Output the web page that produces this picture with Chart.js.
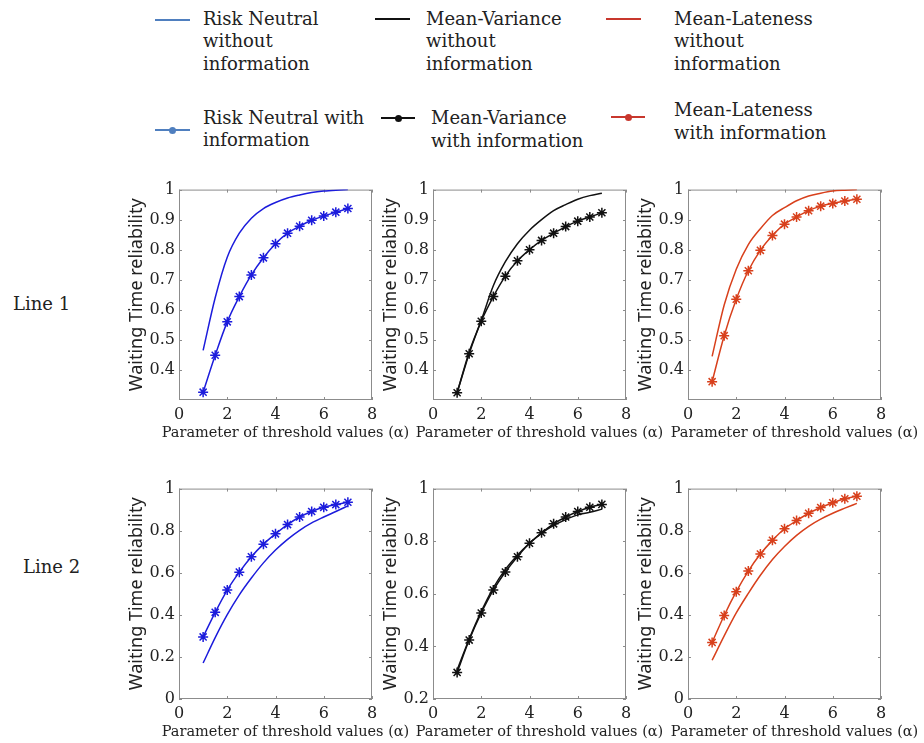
<!DOCTYPE html>
<html>
<head>
<meta charset="utf-8">
<script src="https://cdn.jsdelivr.net/npm/chart.js@4"></script>
<style>
  body { margin: 0; background: #fff; width: 924px; height: 743px; position: relative; overflow: hidden;
         font-family: "DejaVu Serif", serif; color: #222; }
  .leg { position: absolute; font-size: 18px; line-height: 22.5px; white-space: nowrap; }
  .sample { position: absolute; height: 2px; }
  .dot { position: absolute; width: 7px; height: 7px; border-radius: 50%; }
  .xt { position: absolute; width: 300px; text-align: center; font-size: 14.5px; line-height: 17px; white-space: nowrap; }
  .rowlab { position: absolute; font-size: 18px; line-height: 22.5px; }
  .box { position: absolute; }
</style>
</head>
<body>

<!-- legend -->
<div class="sample" style="left:155px;top:19px;width:35px;background:#4f7fbf"></div>
<div class="leg" style="left:203px;top:7.5px">Risk Neutral<br>without<br>information</div>
<div class="sample" style="left:375px;top:18px;width:35px;background:#111"></div>
<div class="leg" style="left:426px;top:7.5px">Mean-Variance<br>without<br>information</div>
<div class="sample" style="left:606px;top:18px;width:35px;background:#c8372d"></div>
<div class="leg" style="left:674px;top:7.5px">Mean-Lateness<br>without<br>information</div>

<div class="sample" style="left:155px;top:129px;width:35px;background:#4f7fbf"></div>
<div class="dot" style="left:169px;top:126.5px;background:#4f7fbf"></div>
<div class="leg" style="left:203px;top:106.5px">Risk Neutral with<br>information</div>
<div class="sample" style="left:381px;top:117px;width:34px;background:#111"></div>
<div class="dot" style="left:394.5px;top:114.5px;background:#111"></div>
<div class="leg" style="left:431px;top:107px">Mean-Variance<br>with information</div>
<div class="sample" style="left:611px;top:116px;width:34px;background:#c8372d"></div>
<div class="dot" style="left:624.5px;top:113.5px;background:#c8372d"></div>
<div class="leg" style="left:674px;top:99px">Mean-Lateness<br>with information</div>

<div class="rowlab" style="left:13px;top:292.5px">Line 1</div>
<div class="rowlab" style="left:23px;top:555.5px">Line 2</div>

<div class="box" style="left:117px;top:176px"><canvas id="c11" width="267" height="254"></canvas></div>
<div class="box" style="left:371px;top:176px"><canvas id="c12" width="267" height="254"></canvas></div>
<div class="box" style="left:626px;top:176px"><canvas id="c13" width="267" height="254"></canvas></div>
<div class="box" style="left:117px;top:475px"><canvas id="c21" width="267" height="254"></canvas></div>
<div class="box" style="left:371px;top:475px"><canvas id="c22" width="267" height="254"></canvas></div>
<div class="box" style="left:626px;top:475px"><canvas id="c23" width="267" height="254"></canvas></div>

<div class="xt" style="left:135.5px;top:423.5px">Parameter of threshold values (α)</div>
<div class="xt" style="left:389.5px;top:423.5px">Parameter of threshold values (α)</div>
<div class="xt" style="left:644.5px;top:423.5px">Parameter of threshold values (α)</div>
<div class="xt" style="left:135.5px;top:722.5px">Parameter of threshold values (α)</div>
<div class="xt" style="left:389.5px;top:722.5px">Parameter of threshold values (α)</div>
<div class="xt" style="left:644.5px;top:722.5px">Parameter of threshold values (α)</div>

<script>
// threshold parameter alpha (x values)
const alphaValues = [1, 1.5, 2, 2.5, 3, 3.5, 4, 4.5, 5, 5.5, 6, 6.5, 7];
const xTicks = [0, 2, 4, 6, 8];
const yTicksLine1 = [0.4, 0.5, 0.6, 0.7, 0.8, 0.9, 1];
const yTicksFull = [0, 0.2, 0.4, 0.6, 0.8, 1];
const yTicksFrom02 = [0.2, 0.4, 0.6, 0.8, 1];

// Line 1
const l1RiskNeutralNoInfo   = [0.465, 0.64, 0.775, 0.855, 0.905, 0.937, 0.957, 0.972, 0.982, 0.99, 0.995, 0.998, 1.0];
const l1RiskNeutralInfo     = [0.326, 0.449, 0.56, 0.644, 0.716, 0.773, 0.82, 0.855, 0.878, 0.898, 0.912, 0.925, 0.937];
const l1MeanVarianceNoInfo  = [0.324, 0.46, 0.565, 0.68, 0.76, 0.82, 0.865, 0.9, 0.93, 0.95, 0.968, 0.98, 0.988];
const l1MeanVarianceInfo    = [0.324, 0.454, 0.562, 0.644, 0.712, 0.763, 0.80, 0.831, 0.855, 0.877, 0.895, 0.909, 0.923];
const l1MeanLatenessNoInfo  = [0.445, 0.616, 0.735, 0.817, 0.87, 0.914, 0.94, 0.963, 0.979, 0.988, 0.995, 0.998, 1.0];
const l1MeanLatenessInfo    = [0.361, 0.514, 0.635, 0.73, 0.798, 0.847, 0.885, 0.909, 0.93, 0.945, 0.954, 0.962, 0.968];

// Line 2
const l2RiskNeutralNoInfo   = [0.171, 0.292, 0.401, 0.495, 0.575, 0.647, 0.708, 0.759, 0.802, 0.837, 0.865, 0.891, 0.918];
const l2RiskNeutralInfo     = [0.295, 0.412, 0.518, 0.603, 0.676, 0.736, 0.785, 0.829, 0.865, 0.891, 0.911, 0.924, 0.935];
const l2MeanVarianceNoInfo  = [0.31, 0.428, 0.533, 0.623, 0.693, 0.747, 0.792, 0.83, 0.86, 0.882, 0.9, 0.91, 0.922];
const l2MeanVarianceInfo    = [0.301, 0.424, 0.527, 0.614, 0.683, 0.741, 0.792, 0.832, 0.866, 0.892, 0.913, 0.929, 0.94];
const l2MeanLatenessNoInfo  = [0.184, 0.3, 0.409, 0.502, 0.588, 0.663, 0.725, 0.778, 0.821, 0.855, 0.883, 0.907, 0.93];
const l2MeanLatenessInfo    = [0.269, 0.397, 0.51, 0.608, 0.689, 0.754, 0.809, 0.848, 0.883, 0.91, 0.933, 0.952, 0.964];

const BLUE = '#1c1cdc';
const BLACK = '#111111';
const RED = '#d8401c';

const toPoints = ys => alphaValues.map((a, i) => ({ x: a, y: ys[i] }));

// matlab style axes box with inward ticks
const boxPlugin = {
  id: 'axesBox',
  beforeDatasetsDraw(chart) {
    const { ctx, chartArea: a, scales: { x, y } } = chart;
    ctx.save();
    ctx.strokeStyle = '#8c8c8c';
    ctx.lineWidth = 1;
    ctx.strokeRect(a.left + 0.5, a.top + 0.5, a.width - 1, a.height - 1);
    ctx.beginPath();
    x.ticks.forEach(t => {
      const px = Math.round(x.getPixelForValue(t.value)) + 0.5;
      ctx.moveTo(px, a.bottom); ctx.lineTo(px, a.bottom - 3);
      ctx.moveTo(px, a.top); ctx.lineTo(px, a.top + 3);
    });
    y.ticks.forEach(t => {
      const py = Math.round(y.getPixelForValue(t.value)) + 0.5;
      ctx.moveTo(a.left, py); ctx.lineTo(a.left + 3, py);
      ctx.moveTo(a.right, py); ctx.lineTo(a.right - 3, py);
    });
    ctx.stroke();
    ctx.restore();
  }
};

function makeChart(id, color, noInfo, withInfo, yMin, yMax, yTicks) {
  const ctx = document.getElementById(id).getContext('2d');
  return new Chart(ctx, {
    type: 'line',
    data: {
      datasets: [
        {
          label: 'without information',
          data: toPoints(noInfo),
          borderColor: color,
          borderWidth: 1.5,
          pointRadius: 0,
          cubicInterpolationMode: 'monotone',
          fill: false
        },
        {
          label: 'with information',
          data: toPoints(withInfo),
          borderColor: color,
          borderWidth: 1.5,
          pointStyle: 'star',
          pointRadius: 5,
          pointBorderColor: color,
          pointBorderWidth: 1.5,
          cubicInterpolationMode: 'monotone',
          fill: false
        }
      ]
    },
    options: {
      responsive: false,
      animation: false,
      layout: { padding: { top: 10, right: 12, left: 0, bottom: 0 } },
      scales: {
        x: {
          type: 'linear',
          min: 0,
          max: 8,
          afterBuildTicks: s => { s.ticks = xTicks.map(v => ({ value: v })); },
          afterFit: s => { s.height = 30; },
          grid: { display: false, drawTicks: false },
          border: { display: false },
          ticks: { padding: 5, color: '#222', font: { family: 'DejaVu Serif', size: 16 }, callback: v => String(v) }
        },
        y: {
          min: yMin,
          max: yMax,
          afterBuildTicks: s => { s.ticks = yTicks.map(v => ({ value: v })); },
          afterFit: s => { s.width = 62; },
          grid: { display: false, drawTicks: false },
          border: { display: false },
          ticks: { padding: 4, color: '#222', font: { family: 'DejaVu Serif', size: 16 }, callback: v => String(v) },
          title: {
            display: true,
            text: 'Waiting Time reliability',
            color: '#222',
            font: { family: 'Noto Sans', size: 18, lineHeight: 1.2 },
            padding: { top: 9.2, bottom: 0 }
          }
        }
      },
      plugins: {
        legend: { display: false },
        tooltip: { enabled: false }
      }
    },
    plugins: [boxPlugin]
  });
}

makeChart('c11', BLUE,  l1RiskNeutralNoInfo,  l1RiskNeutralInfo,  0.3, 1, yTicksLine1);
makeChart('c12', BLACK, l1MeanVarianceNoInfo, l1MeanVarianceInfo, 0.3, 1, yTicksLine1);
makeChart('c13', RED,   l1MeanLatenessNoInfo, l1MeanLatenessInfo, 0.3, 1, yTicksLine1);
makeChart('c21', BLUE,  l2RiskNeutralNoInfo,  l2RiskNeutralInfo,  0, 1, yTicksFull);
makeChart('c22', BLACK, l2MeanVarianceNoInfo, l2MeanVarianceInfo, 0.2, 1, yTicksFrom02);
makeChart('c23', RED,   l2MeanLatenessNoInfo, l2MeanLatenessInfo, 0, 1, yTicksFull);
</script>
</body>
</html>
